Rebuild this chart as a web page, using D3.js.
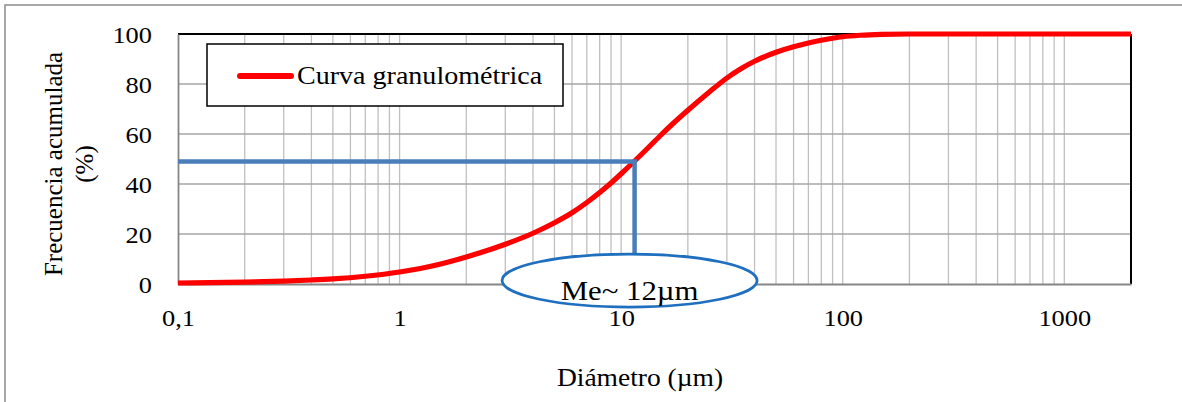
<!DOCTYPE html>
<html>
<head>
<meta charset="utf-8">
<script src="https://cdn.jsdelivr.net/npm/d3@7"></script>
<style>
  html, body { margin: 0; padding: 0; background: #fff; }
  svg { display: block; }
  text { font-family: "Liberation Serif", "Times New Roman", serif; fill: #000; stroke: none; font-weight: 400; }
</style>
</head>
<body>
<svg id="chart" width="1182" height="402"></svg>
<script>
// Cumulative particle-size distribution (granulometric curve)
const diameters  = [0.1, 0.2, 0.3, 0.4, 0.5, 0.7, 1, 1.5, 2, 3, 4, 5, 6, 7, 8, 9, 10, 11.5, 13, 15, 17, 20, 25, 30, 35, 40, 50, 60, 70, 80, 90, 100, 120, 150, 200, 2000];
const cumulative = [0.4, 0.75, 1.15, 1.6, 2.05, 3.1, 4.8, 7.8, 10.8, 15.9, 20.3, 24.5, 28.5, 32.6, 36.6, 40.4, 44.1, 49.2, 53.8, 59.3, 63.9, 69.5, 76.8, 82.4, 86.3, 89.1, 92.7, 94.9, 96.4, 97.5, 98.3, 98.9, 99.5, 99.85, 100, 100];

const xTickValues = [0.1, 1, 10, 100, 1000];
const yTickValues = [0, 20, 40, 60, 80, 100];

const medianDiameter = 11.5;
const medianPercent = 49;
const medianLabel = "Me~ 12µm";

const seriesName = "Curva granulométrica";
const xTitle = "Diámetro (µm)";
const yTitle = ["Frecuencia acumulada", "(%)"];

// Layout
const plot = { left: 178, right: 1131, top: 34, bottom: 284 };
const sx = 1.1; // horizontal widening of the serif labels

const svg = d3.select("#chart");

const x = d3.scaleLog().domain([0.1, 2000]).range([plot.left, plot.right]);
const y = d3.scaleLinear().domain([0, 100]).range([plot.bottom, plot.top]);

const commaLocale = d3.formatLocale({ decimal: ",", thousands: ".", grouping: [3], currency: ["", ""] });
const fmtX = d => commaLocale.format("~g")(d);

// Outer chart frame
svg.append("rect")
  .attr("x", 5).attr("y", 5).attr("width", 1220).attr("height", 440)
  .attr("fill", "none").attr("stroke", "#8c8c8c").attr("stroke-width", 1.5);

// Vertical grid (major + minor decades)
const gridX = x.ticks().filter(d => d > 0.1 + 1e-9 && d < 2000 - 1e-9);
svg.append("g").selectAll("line").data(gridX).join("line")
  .attr("x1", d => x(d)).attr("x2", d => x(d))
  .attr("y1", plot.top).attr("y2", plot.bottom)
  .attr("stroke", "#c0c0c0").attr("stroke-width", 1.3);

// Horizontal grid
svg.append("g").selectAll("line").data(yTickValues.filter(v => v > 0 && v < 100)).join("line")
  .attr("x1", plot.left).attr("x2", plot.right)
  .attr("y1", d => y(d)).attr("y2", d => y(d))
  .attr("stroke", "#a6a6a6").attr("stroke-width", 1.5);

// Top and right edges of the plot area
svg.append("line")
  .attr("x1", plot.left).attr("x2", plot.right).attr("y1", plot.top).attr("y2", plot.top)
  .attr("stroke", "#000").attr("stroke-width", 2);
svg.append("line")
  .attr("x1", plot.right).attr("x2", plot.right).attr("y1", plot.top).attr("y2", plot.bottom)
  .attr("stroke", "#000").attr("stroke-width", 2);

// X axis
const xAxis = svg.append("g")
  .attr("transform", `translate(0,${plot.bottom})`)
  .call(d3.axisBottom(x).tickValues(xTickValues).tickFormat(fmtX).tickSize(0).tickSizeOuter(0));
xAxis.attr("font-family", null).attr("font-size", null);
xAxis.select(".domain").attr("stroke", "#868686").attr("stroke-width", 1.8);
xAxis.selectAll("text")
  .attr("y", 42).attr("dy", null)
  .attr("transform", `scale(${sx},1)`)
  .style("font-size", "24px");

// Y axis
const yAxis = svg.append("g")
  .attr("transform", `translate(${plot.left},0)`)
  .call(d3.axisLeft(y).tickValues(yTickValues).tickSize(0).tickSizeOuter(0));
yAxis.attr("font-family", null).attr("font-size", null);
yAxis.select(".domain").attr("stroke", "#868686").attr("stroke-width", 1.8);
yAxis.selectAll("text")
  .attr("x", -26 / sx).attr("dy", "0.34em")
  .attr("transform", `scale(${sx},1)`)
  .style("font-size", "24px");

// Axis titles
svg.append("text")
  .attr("transform", `translate(640,386) scale(${sx},1)`)
  .attr("text-anchor", "middle")
  .style("font-size", "25px")
  .text(xTitle);

const yT = svg.append("text")
  .attr("transform", "translate(62,164) rotate(-90)")
  .attr("text-anchor", "middle")
  .style("font-size", "25px");
yT.append("tspan").attr("x", 0).attr("y", 0).text(yTitle[0]);
yT.append("tspan").attr("x", 0).attr("y", 31).text(yTitle[1]);

// Cumulative curve
const pts = diameters.map((d, i) => [d, cumulative[i]]);
const line = d3.line().x(d => x(d[0])).y(d => y(d[1])).curve(d3.curveMonotoneX);
svg.append("path")
  .datum(pts)
  .attr("d", line)
  .attr("fill", "none")
  .attr("stroke", "#ff0000")
  .attr("stroke-width", 5.2);

// Median guide lines
const mx = x(medianDiameter), my = y(medianPercent);
svg.append("path")
  .attr("d", `M${plot.left},${my}H${mx}V${plot.bottom}`)
  .attr("fill", "none")
  .attr("stroke", "#4a7ebb")
  .attr("stroke-width", 4.5)
  .attr("stroke-linejoin", "miter");

// Median callout
const cx = mx - 5, cy = plot.bottom - 3.5;
svg.append("ellipse")
  .attr("cx", cx).attr("cy", cy).attr("rx", 127.5).attr("ry", 26.5)
  .attr("fill", "#fff").attr("stroke", "#1f6fbf").attr("stroke-width", 2.75);
svg.append("text")
  .attr("transform", `translate(${cx},${plot.bottom + 16}) scale(${sx},1)`)
  .attr("text-anchor", "middle")
  .style("font-size", "28px")
  .text(medianLabel);

// Legend
const lg = svg.append("g");
lg.append("rect")
  .attr("x", 207).attr("y", 44).attr("width", 356).attr("height", 62)
  .attr("fill", "#fff").attr("stroke", "#000").attr("stroke-width", 1.5);
lg.append("line")
  .attr("x1", 240).attr("x2", 291).attr("y1", 76).attr("y2", 76)
  .attr("stroke", "#ff0000").attr("stroke-width", 6).attr("stroke-linecap", "round");
lg.append("text")
  .attr("transform", `translate(297,83.5) scale(${sx},1)`)
  .style("font-size", "25.5px")
  .text(seriesName);
</script>
</body>
</html>
